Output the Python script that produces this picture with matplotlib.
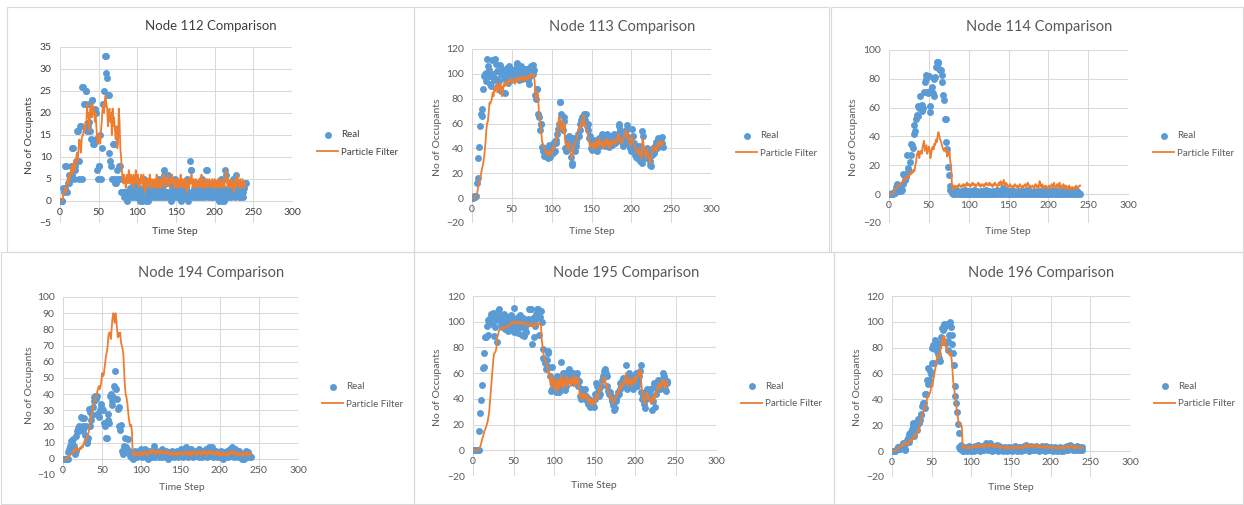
import numpy as np
import matplotlib
matplotlib.use("Agg")
import matplotlib.pyplot as plt
from matplotlib.patches import Rectangle

plt.rcParams["font.family"] = ["Lato", "DejaVu Sans"]

# Node 112
real_112 = [0,0,0,0,3,2,3,8,8,2, 4,6,4,5,8,6,12,12,5,8, 7,9,16,16,9,5,17,17,5,26,
            26,22,22,25,25,16,17,22,18,16, 14,23,23,13,13,21,20,14,7,5, 8,8,15,5,12,22,22,25,33,33,
            29,28,24,24,11,9,8,5,5,13, 13,4,5,4,7,5,8,8,5,2, 2,2,2,1,2,2,0,1,2,2,
            1,3,2,2,4,1,2,3,1,2, 4,1,3,2,0,2,0,1,3,5, 4,0,1,2,0,3,1,2,1,4,
            2,3,1,2,4,1,3,2,5,1, 4,2,3,1,7,6,2,1,4,2, 6,5,1,2,0,3,4,1,2,5,
            2,1,3,4,1,2,0,2,3,1, 4,2,1,3,5,2,0,1,9,7, 7,2,1,3,2,1,4,2,3,1,
            2,4,1,3,5,2,1,4,2,7, 7,1,3,2,4,1,2,3,1,2, 4,2,1,3,2,1,0,2,5,1,
            0,3,0,2,7,6,2,1,3,2, 4,1,2,3,5,2,1,3,6,4, 2,1,4,2,1,3,2,1,3,4, 4]
pf_112 = [0,0,0,0,1,2,2,3,2,4, 5,4,6,5,7,8,6,8,9,7, 8,10,11,9,12,14,13,11,14,15,
          15,17,16,18,17,22,19,20,16,21, 22,19,22,20,21,18,20,17,14,13, 15,14,13,16,18,21,22,20,23,24,
          22,21,17,20,21,18,20,15,21,17, 19,16,14,17,12,13,21,18,12,10, 7,5,4,6,5,3,5,6,4,7,
          5,4,6,5,3,6,5,4,7,5, 4,6,3,5,4,6,5,3,6,4, 2,5,4,3,5,4,6,3,4,5,
          3,4,5,3,4,6,3,5,4,3, 5,4,3,5,6,4,5,3,4,6, 5,4,3,5,4,6,4,5,3,4,
          5,3,4,5,3,4,6,4,3,5, 4,3,5,4,2,5,4,3,5,4, 6,4,3,5,4,3,5,4,3,4,
          5,3,4,6,4,3,5,4,3,4, 5,3,4,5,4,3,4,5,3,4, 5,3,4,3,5,4,3,5,4,3,
          4,5,3,4,5,7,4,3,5,4, 3,4,5,3,4,2,5,4,3,6, 5,4,3,5,4,3,5,4,3,4, 4]

# Node 113
real_113 = [0,0,1,2,1,2,12,16,32,41, 58,68,66,72,88,98,100,94,101,112, 106,103,98,92,90,111,100,97,95,112,
            108,102,96,90,94,107,100,86,104,99, 98,85,96,100,105,93,102,106,98,95, 103,99,96,101,104,97,108,109,100,95,
            103,98,106,96,101,99,104,97,100,103, 95,92,105,98,106,102,100,107,103,83, 80,88,88,68,65,55,60,60,41,38,
            34,40,38,35,33,32,38,43,33,37, 38,42,36,45,38,44,47,52,56,60, 77,77,68,58,55,62,65,40,38,48,
            42,45,50,40,33,28,27,48,44,38, 42,45,48,52,50,55,60,63,65,62, 68,66,63,68,58,60,55,48,50,40,
            39,45,42,47,40,45,42,38,46,48, 45,42,48,52,46,44,50,42,45,48, 52,44,41,46,50,45,43,48,52,46,
            44,48,46,52,58,60,55,50,45,48, 42,46,52,55,59,50,46,43,40,38, 45,56,50,44,40,35,33,32,38,42,
            36,30,32,28,54,50,38,35,32,36, 40,38,33,30,27,26,35,40,38,36, 42,45,40,44,48,42,46,48,44,49, 41]
pf_113 = [0,0,0,0,0,2,3,6,10,12, 15,18,22,25,28,32,38,45,55,60, 62,70,77,76,78,80,85,82,88,86,
          90,92,85,88,90,93,86,90,82,88, 92,90,93,91,94,92,95,93,94,96, 93,95,94,96,92,95,97,94,96,95,
          97,95,96,98,94,97,96,98,95,97, 98,96,99,97,100,98,99,100,98,90, 80,84,86,80,70,65,60,52,45,44,
          42,40,38,36,35,38,36,34,38,36, 35,38,42,40,44,45,48,50,55,65, 66,60,55,58,62,52,60,45,42,44,
          40,42,45,38,35,32,34,42,40,44, 45,48,50,52,55,58,56,60,62,58, 67,62,60,58,55,52,50,45,42,44,
          40,42,44,40,45,42,46,40,42,48, 44,42,46,43,45,40,44,47,42,45, 48,44,40,46,42,45,44,47,45,43,
          46,48,45,50,52,48,45,47,44,46, 48,50,52,55,50,48,52,46,44,42, 45,50,47,44,42,40,38,36,38,40,
          35,38,36,32,48,45,40,36,32,38, 40,36,34,30,28,32,38,42,40,38, 40,42,38,44,45,42,44,46,42,45, 44]

# Node 114
real_114 = [0,0,0,0,1,0,1,2,1,5, 7,6,2,3,5,2,3,7,14,13, 10,12,15,27,18,16,22,27,35,34,
            32,42,48,44,52,55,54,61,60,68, 61,58,62,60,71,78,83,80,71,70, 82,61,57,72,74,70,68,80,81,88,
            92,92,91,87,86,86,83,78,69,65, 52,52,36,31,19,13,6,3,2,1, 0,2,1,0,3,1,0,2,1,0,
            1,0,2,0,1,0,3,1,0,2, 0,1,0,2,1,0,1,3,0,1, 2,0,1,0,1,2,0,1,0,2,
            1,0,3,0,1,2,0,1,0,1, 0,2,1,0,1,3,0,2,1,0, 2,1,0,4,1,2,0,3,1,0,
            1,2,0,1,3,0,1,2,0,1, 0,1,2,0,1,0,2,1,0,1, 2,0,1,3,0,1,2,0,1,0,
            1,0,2,1,0,1,0,2,1,0, 1,2,0,1,3,0,1,0,2,1, 0,1,2,0,1,0,3,1,0,2,
            1,0,1,2,0,1,0,1,2,0, 1,3,0,1,0,2,1,0,1,0, 2,1,0,1,0,1,2,0,1,0, 0]
pf_114 = [0,0,0,0,0,1,2,3,4,4, 5,5,6,7,6,7,8,9,10,9, 11,10,12,11,13,12,14,15,14,16,
          15,17,16,20,22,28,27,30,25,29, 30,28,32,35,37,30,32,34,28,30, 33,31,25,28,32,33,31,35,34,38,
          36,40,43,41,38,37,35,33,31,30, 32,30,31,26,30,27,29,22,20,6, 3,4,5,6,4,5,6,5,7,6,
          5,6,5,7,6,5,7,6,8,6, 7,6,5,7,6,8,7,6,7,5, 6,7,8,6,7,5,6,7,6,5,
          7,6,8,7,6,7,8,6,7,6, 5,7,6,8,7,6,5,7,8,6, 9,7,6,8,10,7,6,8,7,5,
          6,5,7,6,5,4,6,5,7,6, 5,6,4,5,7,6,5,4,6,5, 6,7,5,6,8,7,5,6,4,5,
          6,5,4,6,7,5,6,4,5,9, 6,5,7,4,6,5,4,6,5,4, 5,6,4,5,7,6,5,8,6,4,
          5,7,6,4,8,5,6,4,5,7, 5,4,6,3,5,4,6,5,3,4, 5,4,3,5,4,6,5,4,5,6, 6]

# Node 194
real_194 = [0,0,0,0,0,0,0,4,6,8, 11,11,9,12,8,3,5,14,17,19, 17,20,19,26,25,20,18,25,15,20,
            11,10,13,31,29,20,24,27,32,36, 38,39,37,39,28,27,26,30,32,34, 31,30,22,21,20,13,13,28,24,22,
            39,40,36,33,38,45,54,44,43,37, 31,32,20,18,21,5,3,4,8,13, 7,4,6,12,5,3,2,1,3,0,
            1,3,5,2,4,1,3,5,2,6, 4,1,3,2,5,6,1,3,0,4, 2,5,3,1,4,2,8,3,1,5,
            2,4,1,3,5,2,6,1,3,4, 2,5,1,3,0,4,2,1,3,5, 2,4,1,3,2,5,3,1,4,2,
            5,6,3,1,4,2,6,7,5,3, 1,4,2,6,3,5,1,4,2,3, 5,2,4,1,6,3,2,5,1,4,
            3,5,2,6,1,4,3,7,2,5, 7,3,1,4,2,5,3,1,4,2, 1,3,5,2,0,4,1,3,2,5,
            4,1,3,6,2,5,7,3,1,4, 6,2,4,1,3,5,2,1,0,3, 1,0,2,5,1,3,4,2,1,2, 1]
pf_194 = [0,0,0,0,0,0,1,1,2,2, 3,3,4,5,4,6,5,7,7,6, 5,6,7,6,8,7,9,10,12,11,
          12,14,15,17,20,23,25,28,30,33, 35,37,38,40,42,44,45,43,45,48, 53,51,52,56,60,64,66,70,76,78,
          78,74,80,86,90,87,84,90,86,80, 75,78,76,78,72,70,68,65,55,45, 40,38,35,30,25,22,20,21,17,3,
          3,2,4,3,2,3,4,2,3,4, 2,3,4,3,5,4,3,2,4,3, 4,5,3,4,6,4,5,3,4,5,
          3,4,5,3,4,5,4,3,5,4, 3,4,3,5,4,3,4,2,3,4, 3,2,4,3,4,3,2,4,3,4,
          3,4,2,3,4,3,5,4,3,2, 4,3,5,2,3,4,3,5,4,3, 2,4,3,5,4,3,2,4,5,3,
          4,3,5,4,2,3,5,4,3,4, 5,3,4,3,2,4,3,5,3,2, 4,3,2,3,4,2,3,4,3,2,
          3,4,2,3,5,4,3,4,5,3, 4,3,2,4,3,2,4,3,2,3, 4,2,3,4,3,2,4,3,2,3, 3]

# Node 195
real_195 = [0,0,0,0,0,0,0,0,15,29, 39,51,64,65,76,88,88,97,101,90, 100,103,106,98,104,107,89,96,101,105,
            84,108,110,104,98,102,96,100,106,103, 94,99,104,93,102,100,96,105,98,103, 111,92,100,95,93,104,91,97,105,102,
            90,96,103,89,94,100,92,98,102,110, 110,110,99,83,103,88,101,97,106,110, 110,104,90,104,108,100,79,72,71,68,
            63,70,77,76,65,58,46,48,65,55, 52,50,45,55,58,47,45,52,48,69, 56,60,52,58,47,50,55,62,60,63,
            58,60,55,57,60,52,56,58,60,55, 50,54,42,40,45,48,44,47,48,40, 42,38,36,40,35,34,36,37,35,34,
            40,44,52,50,45,42,48,44,50,55, 56,58,62,63,60,58,50,46,44,45, 42,40,38,35,31,33,38,40,42,45,
            44,48,52,50,54,56,55,52,50,66, 48,52,56,60,55,50,58,54,48,52, 56,60,55,50,53,58,62,66,45,40,
            42,36,33,40,45,48,46,44,47,48, 42,31,38,52,50,34,44,48,52,55, 50,48,54,52,56,60,58,48,46,52, 54]
pf_195 = [0,0,0,0,0,0,0,1,2,3, 5,8,10,12,15,16,18,20,22,26, 30,38,45,55,62,70,75,76,77,80,
          88,90,93,94,95,95,96,94,95,96, 96,95,97,96,97,98,97,99,100,99, 100,99,100,98,99,100,99,98,99,100,
          99,100,98,99,97,98,99,98,97,98, 99,97,98,97,98,96,98,97,99,98, 97,98,99,98,97,85,80,75,72,70,
          68,66,65,60,62,55,50,58,56,52, 48,55,50,45,52,56,48,54,50,58, 52,48,55,50,52,58,50,54,56,52,
          55,50,56,52,54,58,50,55,57,52, 55,48,42,44,40,42,44,40,42,44, 40,42,38,40,36,40,38,35,37,40,
          36,38,42,44,40,45,48,46,50,52, 54,57,56,55,50,52,48,45,44,42, 40,42,38,36,37,40,42,44,42,45,
          48,46,50,48,52,50,54,52,56,60, 52,50,54,56,52,55,50,52,55,57, 52,55,58,56,60,62,58,62,50,45,
          40,38,36,42,45,44,40,42,38,40, 36,38,42,40,38,45,42,48,50,48, 52,50,48,54,52,55,50,48,52,54, 50]

# Node 196
real_196 = [0,0,0,0,0,1,2,3,3,2, 2,3,5,3,6,5,2,1,6,9, 10,7,13,14,15,17,22,20,12,22,
            18,16,20,25,22,24,28,29,35,37, 37,44,33,44,55,52,64,55,62,60, 68,80,82,68,86,78,84,80,75,72,
            70,84,88,95,94,95,98,97,84,98, 85,78,90,100,96,90,83,76,67,50, 43,37,30,21,14,3,2,5,1,0,
            0,2,1,3,0,2,1,4,2,0, 3,1,2,0,4,1,2,3,1,5, 2,0,3,1,4,2,1,3,2,6,
            4,1,3,2,6,1,0,4,2,3, 1,2,5,3,0,4,1,2,3,1, 0,2,1,3,2,0,1,2,3,1,
            2,0,3,1,2,4,1,0,2,3, 1,2,0,3,1,2,4,1,3,5, 2,1,3,0,2,4,1,3,2,1,
            3,2,4,1,2,0,3,1,2,4, 1,3,2,0,4,1,2,3,1,2, 3,1,2,0,2,3,1,2,0,1,
            2,1,3,0,2,1,0,2,3,1, 2,4,1,3,5,2,4,3,1,2, 3,1,2,4,1,2,3,1,2,3, 1]
pf_196 = [0,0,0,0,0,1,1,2,2,3, 3,4,5,4,6,5,6,7,5,6, 5,7,8,7,9,8,10,11,12,11,
          13,12,15,17,16,20,22,24,28,30, 32,34,33,36,40,43,42,44,45,48, 52,50,55,58,62,65,70,72,75,73,
          72,78,80,84,88,82,89,86,80,78, 78,76,75,74,76,72,65,55,50,45, 40,36,30,26,22,20,21,20,19,3,
          3,2,3,4,3,2,3,2,3,4, 3,2,3,4,3,4,5,3,4,3, 4,5,3,4,5,4,3,5,4,5,
          4,5,3,4,6,4,5,3,4,5, 4,3,5,4,3,4,3,2,3,4, 3,2,3,2,3,4,2,3,2,3,
          3,2,3,4,2,3,2,3,4,2, 3,2,3,4,3,2,3,4,5,3, 4,3,4,5,3,4,5,3,4,5,
          4,3,5,4,3,4,3,4,3,4, 3,4,3,2,3,4,3,4,2,3, 3,2,3,4,3,2,3,2,3,2,
          3,2,3,2,3,4,2,3,2,3, 3,4,3,2,4,3,5,4,3,2, 3,4,2,3,4,3,2,3,2,3, 3]

W, H = 1244, 505
BLUE = "#5B9BD5"
ORANGE = "#ED7D31"
GRID = "#D9D9D9"
GREY = "#595959"

def fx(px):
    return px / W

def fy(py):
    return 1 - py / H

# layout in pixels: plot box (l, t, r, b), title, y label, x label, legend anchor
panels = [
    dict(name="112", real=real_112, pf=pf_112, ylim=(-5, 35, 5), box=(60, 47, 292, 223),
         title=(211, 25.5), tsize=9.5, tcol="#404040", ylab=(29, 135), xlab=(175, 232), leg=(317, 143.5)),
    dict(name="113", real=real_113, pf=pf_113, ylim=(-20, 120, 20), box=(472, 49, 711, 223),
         title=(622, 27), tsize=10.5, tcol=GREY, ylab=(438, 137), xlab=(592, 232), leg=(736, 144.5)),
    dict(name="114", real=real_114, pf=pf_114, ylim=(-20, 100, 20), box=(889, 50, 1128, 223),
         title=(1039, 27), tsize=10.5, tcol=GREY, ylab=(853, 137), xlab=(1008, 232), leg=(1153, 144.5)),
    dict(name="194", real=real_194, pf=pf_194, ylim=(-10, 100, 10), box=(63, 297, 298, 475),
         title=(211, 273), tsize=10.5, tcol=GREY, ylab=(29, 385), xlab=(182, 487), leg=(322, 395.5)),
    dict(name="195", real=real_195, pf=pf_195, ylim=(-20, 120, 20), box=(473, 296, 716, 476),
         title=(626, 273), tsize=10.5, tcol=GREY, ylab=(438, 387), xlab=(594, 486), leg=(741, 395)),
    dict(name="196", real=real_196, pf=pf_196, ylim=(-20, 120, 20), box=(892, 296, 1130, 477),
         title=(1041, 273), tsize=10.5, tcol=GREY, ylab=(858, 387), xlab=(1011, 487), leg=(1154, 395)),
]

fig = plt.figure(figsize=(W / 100, H / 100), dpi=100)

# chart frames
frames = [(7, 7, 414, 252), (414, 7, 829, 252), (831, 7, 1243, 252),
          (0.5, 252, 414, 504), (414, 252, 834, 504), (834, 252, 1243, 504)]
for l, t, r, b in frames:
    fig.add_artist(Rectangle((fx(l), fy(b)), (r - l) / W, (b - t) / H, transform=fig.transFigure,
                             fill=False, edgecolor=GRID, lw=0.8))

for p in panels:
    l, t, r, b = p["box"]
    ax = fig.add_axes([fx(l), fy(b), (r - l) / W, (b - t) / H])
    ymin, ymax, ystep = p["ylim"]
    ax.scatter(np.arange(len(p["real"])), p["real"], s=25, color=BLUE, linewidths=0, zorder=3, label="Real")
    ax.plot(np.arange(len(p["pf"])), p["pf"], color=ORANGE, lw=1.3, zorder=4, label="Particle Filter")
    ax.set_xlim(0, 300)
    ax.set_ylim(ymin, ymax)
    ax.set_xticks(range(0, 301, 50))
    ax.set_yticks(range(ymin, ymax + 1, ystep))
    ax.grid(True, color=GRID, lw=0.75)
    ax.set_axisbelow(True)
    for s in ["top", "right", "left"]:
        ax.spines[s].set_visible(False)
    ax.spines["bottom"].set_position(("data", 0))
    ax.spines["bottom"].set_color(GRID)
    ax.spines["bottom"].set_linewidth(0.75)
    ax.tick_params(axis="x", length=0, labelsize=7.5, colors=p["tcol"], pad=5)
    ax.tick_params(axis="y", length=0, labelsize=7.5, colors=p["tcol"], pad=6)

    fig.text(fx(p["title"][0]), fy(p["title"][1]), f"Node {p['name']} Comparison",
             ha="center", va="center", fontsize=p["tsize"], color=p["tcol"])
    fig.text(fx(p["ylab"][0]), fy(p["ylab"][1]), "No of Occupants", rotation=90,
             ha="center", va="center", fontsize=7.5, color=p["tcol"])
    fig.text(fx(p["xlab"][0]), fy(p["xlab"][1]), "Time Step",
             ha="center", va="center", fontsize=7.5, color=p["tcol"])
    ax.legend(loc="center left", bbox_to_anchor=(fx(p["leg"][0]), fy(p["leg"][1])),
              bbox_transform=fig.transFigure, frameon=False, fontsize=7, scatterpoints=1,
              handlelength=2.2, handletextpad=0.3, labelspacing=0.85, borderpad=0,
              borderaxespad=0, labelcolor=p["tcol"])

fig.savefig("out.png", dpi=100, facecolor="white")
